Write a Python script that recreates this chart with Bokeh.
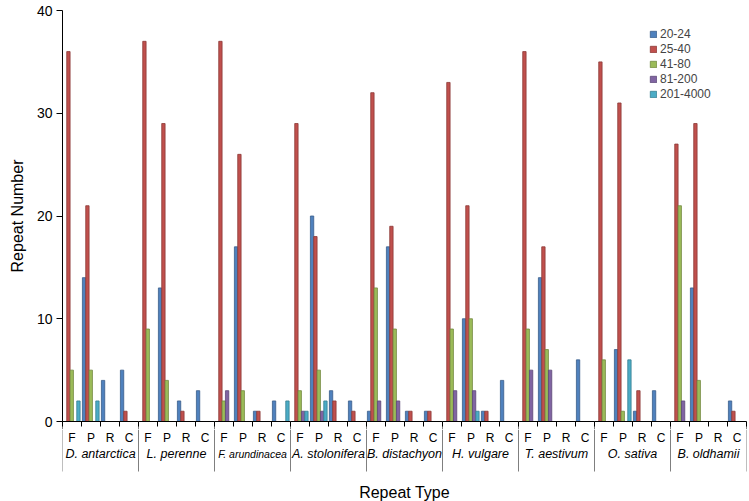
import numpy as np
from bokeh.plotting import figure
from bokeh.layouts import column
from bokeh.models import (ColumnDataSource, Range1d, LinearAxis, FixedTicker,
                          Legend, LegendItem)
from bokeh.transform import dodge
from bokeh.core.properties import value
from bokeh.embed import file_html
from bokeh.resources import INLINE

species = ["D. antarctica", "L. perenne", "F. arundinacea", "A. stolonifera",
           "B. distachyon", "H. vulgare", "T. aestivum", "O. sativa", "B. oldhamii"]
repeat_types = ["F", "P", "R", "C"]
series_names = ["20-24", "25-40", "41-80", "81-200", "201-4000"]

# values per species, in order F, P, R, C
v_20_24 = [0, 14, 4, 5,  0, 13, 2, 3,  0, 17, 1, 2,  0, 20, 3, 2,  1, 17, 1, 1,
           0, 10, 1, 4,  0, 14, 0, 6,  0, 7, 1, 3,  0, 13, 0, 2]
v_25_40 = [36, 21, 0, 1,  37, 29, 1, 0,  37, 26, 1, 0,  29, 18, 2, 1,  32, 19, 1, 1,
           33, 21, 1, 0,  36, 17, 0, 0,  35, 31, 3, 0,  27, 29, 0, 1]
v_41_80 = [5, 5, 0, 0,  9, 4, 0, 0,  2, 3, 0, 0,  3, 5, 0, 0,  13, 9, 0, 0,
           9, 10, 0, 0,  9, 7, 0, 0,  6, 1, 0, 0,  21, 4, 0, 0]
v_81_200 = [0, 0, 0, 0,  0, 0, 0, 0,  3, 0, 0, 0,  1, 1, 0, 0,  2, 2, 0, 0,
            3, 3, 0, 0,  5, 5, 0, 0,  0, 0, 0, 0,  2, 0, 0, 0]
v_201_4000 = [2, 2, 0, 0,  0, 0, 0, 0,  0, 0, 0, 2,  1, 2, 0, 0,  0, 0, 0, 0,
              0, 1, 0, 0,  0, 0, 0, 0,  0, 6, 0, 0,  0, 0, 0, 0]

fills = ["#4F81BD", "#C0504D", "#9BBB59", "#8064A2", "#4BACC6"]
edges = ["#385D8A", "#8C3836", "#71893F", "#5C4776", "#357D91"]

FONT = "Liberation Sans"
W, H = 749, 501
LEFT, RIGHT, TOP, FRAME_H, AX_H = 62, 3, 10, 411, 8
SMALL_LABELS = {"F. arundinacea"}   # rendered in a smaller font in the original
n_types = len(repeat_types)
n_cat = len(species) * n_types

all_series = [v_20_24, v_25_40, v_41_80, v_81_200, v_201_4000]
data = {"x": np.arange(n_cat) + 0.5}
for name, vals in zip(series_names, all_series):
    arr = np.array(vals, dtype=float)
    data[name] = np.where(arr > 0, arr, np.nan)
source = ColumnDataSource(data)

H1 = TOP + FRAME_H + AX_H
p = figure(width=W, height=H1, output_backend="svg", toolbar_location=None,
           x_range=Range1d(0, n_cat), y_range=Range1d(0, 40),
           x_axis_location=None, min_border_left=LEFT, min_border_right=RIGHT,
           min_border_top=TOP, min_border_bottom=AX_H)
p.outline_line_color = None
p.xgrid.visible = False
p.ygrid.visible = False

bw = 0.176
items = []
for i, (name, fc, ec) in enumerate(zip(series_names, fills, edges)):
    r = p.vbar(x=dodge("x", -0.013 + (i - 2) * bw, range=p.x_range), top=name,
               width=bw, source=source, fill_color=fc, line_color=ec, line_width=0.8)
    items.append(LegendItem(label=name, renderers=[r]))

# y axis
ya = p.yaxis[0]
ya.ticker = FixedTicker(ticks=[0, 10, 20, 30, 40])
ya.minor_tick_line_color = None
ya.major_tick_in = 0
ya.major_tick_out = 6
ya.major_label_standoff = 4
ya.major_label_text_font = FONT
ya.major_label_text_font_size = "14px"
ya.major_label_text_color = "black"
ya.axis_line_color = "black"
ya.major_tick_line_color = "black"
ya.axis_label = "Repeat Number"
ya.axis_label_text_font = FONT
ya.axis_label_text_font_size = "16px"
ya.axis_label_text_font_style = "normal"
ya.axis_label_text_color = "black"
ya.axis_label_standoff = 8

# x axis line: small ticks at category boundaries, longer ones at group boundaries
bounds = list(range(n_cat + 1))
gbounds = [g * n_types for g in range(len(species) + 1)]
xa = LinearAxis(ticker=FixedTicker(ticks=gbounds, minor_ticks=bounds))
xa.major_label_overrides = {b: "" for b in gbounds}
xa.major_label_text_font_size = "0px"
xa.major_label_standoff = 0
xa.major_tick_in = 0
xa.major_tick_out = AX_H
xa.major_tick_line_color = "#7f7f7f"
xa.minor_tick_in = 0
xa.minor_tick_out = 5
xa.minor_tick_line_color = "black"
xa.axis_line_color = "black"
p.add_layout(xa, "below")

legend = Legend(items=items, location="top_right", margin=16, padding=0,
                spacing=0, glyph_width=8, glyph_height=8, label_height=15,
                label_width=70, label_standoff=3,
                label_text_font=FONT, label_text_font_size="12px",
                border_line_color=None, background_fill_alpha=0)
p.add_layout(legend)

# label panel under the axis (y measured downward in pixels from panel top)
H2 = H - H1
p2 = figure(width=W, height=H2, output_backend="svg", toolbar_location=None,
            x_range=p.x_range, y_range=Range1d(H2, 0),
            x_axis_location=None, y_axis_location=None,
            min_border_left=LEFT, min_border_right=RIGHT,
            min_border_top=0, min_border_bottom=0)
p2.outline_line_color = None
p2.xgrid.visible = False
p2.ygrid.visible = False

TYPE_Y, SPECIES_Y, SEP_END, TITLE_Y = 8.5, 24, 42, 63

type_src = ColumnDataSource(dict(
    x=np.arange(n_cat) + 0.5,
    y=[TYPE_Y] * n_cat,
    t=[repeat_types[i % n_types] for i in range(n_cat)]))
p2.text(x="x", y="y", text="t", source=type_src, text_align="center",
        text_baseline="middle", text_font=value(FONT), text_font_size="12px",
        text_color="black")

sp_src = ColumnDataSource(dict(
    x=[g * n_types + n_types / 2 for g in range(len(species))],
    y=[SPECIES_Y] * len(species),
    t=species,
    s=["10.5px" if sp in SMALL_LABELS else "12.5px" for sp in species]))
p2.text(x="x", y="y", text="t", source=sp_src, text_align="center",
        text_baseline="middle", text_font=value(FONT), text_font_size="s",
        text_font_style="italic", text_color="black")

p2.segment(x0=gbounds, y0=[0] * len(gbounds), x1=gbounds, y1=[SEP_END] * len(gbounds),
           line_color="#7f7f7f", line_width=1)

p2.text(x=[n_cat / 2], y=[TITLE_Y], text=["Repeat Type"], text_align="center",
        text_baseline="middle", text_font=value(FONT), text_font_size="16px",
        text_color="black")

layout = column(p, p2, spacing=0)
open("out.html", "w").write(file_html(layout, INLINE))
